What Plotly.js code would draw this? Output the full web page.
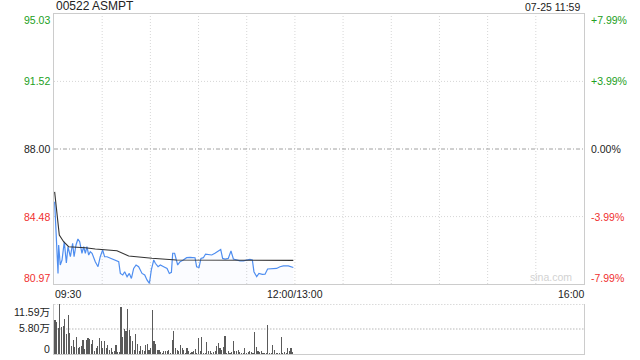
<!DOCTYPE html>
<html><head><meta charset="utf-8">
<script src="https://cdn.plot.ly/plotly-3.0.1.min.js"></script>
<style>html,body{margin:0;padding:0;background:#fff;}#c{width:640px;height:360px;}</style>
</head><body><div id="c"></div>
<script>
// ---- data (minutes after 09:30, trading time with lunch break removed) ----
const priceMin = [0.4,2.5,2.9,3.9,5.0,6.4,7.7,8.7,10.2,11.6,12.5,13.7,14.9,16.0,17.4,18.5,19.5,20.5,21.6,22.6,23.7,25.7,27.4,28.8,30.3,31.5,33.0,35.1,37.2,40.3,41.3,42.8,44.0,45.5,46.9,48.2,49.6,51.1,52.7,54.8,56.5,57.9,59.4,60.6,62.1,63.1,64.8,66.2,68.3,70.4,71.8,73.1,73.9,75.1,77.0,78.5,80.5,82.6,84.7,87.8,88.8,90.3,91.5,93.0,94.4,96.1,98.2,100.2,102.3,103.8,105.0,106.5,108.5,110.2,111.7,113.7,115.8,117.9,120.0,122.0,123.5,124.5,126.2,127.6,129.7,131.4,133.0,135.5,138.6,140.7,142.8,145.9,148.0,149.0];
const priceVal = [85.25,81.52,83.00,81.96,82.22,83.17,82.06,82.91,82.39,83.09,82.39,83.00,83.31,83.17,82.57,82.91,82.57,82.91,82.48,82.65,82.57,82.13,81.87,82.39,82.74,82.39,82.39,82.31,82.27,82.13,81.52,81.44,81.61,81.35,81.52,81.26,81.78,81.96,81.87,81.52,81.44,81.18,81.00,81.70,82.22,82.05,81.87,81.96,81.87,81.78,81.52,81.58,82.57,82.57,81.96,82.13,82.22,82.34,82.36,82.34,81.87,81.83,82.30,82.34,82.53,82.51,82.48,82.57,82.69,82.77,82.30,82.27,82.30,82.69,82.27,82.22,82.17,82.17,82.22,82.25,82.22,81.61,81.35,81.52,81.47,81.48,81.75,81.75,81.78,81.87,81.91,81.91,81.85,81.83];
const avgMin = [0.4,1.9,3.3,6.0,9.1,19.5,25.7,39.2,42.3,46.5,61.0,76.0,149.0];
const avgVal = [85.77,84.56,83.52,83.17,82.91,82.86,82.79,82.70,82.57,82.43,82.31,82.22,82.20];
const volK = [77.8,74.7,61,115.9,62.5,64.8,82,45.7,91.5,49.5,19,32,17,39.6,13.7,17,19,32,11.4,32,36.6,34,24,33.5,7.6,15,19,38,29,15,29,13.7,21,9,13.7,4,6,21,4,4,109,40,57,53,104,55,42,30.5,10,47,23,6,19,9,6,20,23,9,15,102,29,23,9,9,4,3,6,7.6,6,9,2.3,33.5,
  54,14,9,7.7,21.6,14,9,1.5,15,6,1.5,4,7.7,11,1.5,37,6,38.6,1.5,1.5,27,6,7.7,3,4.6,7.7,19,24.7,15,9,17,42.5,1.5,7.7,3,4,31,6,7.7,9,4,3,1.5,14,3,4,7.7,4,3,50,17,7.7,4,6,3,3,1.5,68,1.5,3,21.6,9,1.5,1.5,1.5,40,1.5,4,3,15,6,14,4];
const priceTicks = [95.03, 91.52, 88.00, 84.48, 80.97];
const priceTickText = ['95.03','91.52','88.00','84.48','80.97'];
const pctTickText = ['+7.99%','+3.99%','0.00%','-3.99%','-7.99%'];
const volTicks = [115900, 57950, 0];
const volTickText = ['11.59万','5.80万','0'];
const timeLabels = ['09:30','12:00/13:00','16:00'];
const timeLabelPos = [0,150,330];
const gridMinutes = [30,60,90,120,150,180,210,240,270,300];
const titleText = '00522 ASMPT';
const stampText = '07-25 11:59';

// ---- build ----
const FONT = 'Liberation Sans, Arial, Noto Sans CJK SC, sans-serif';
const GREEN = '#22a022', RED = '#f03030', DARK = '#222';
const volMin = volK.map((v,i)=> 0.6 + i*148/(volK.length-1));
const vol = volK.map(v=>v*1000);

const traces = [
  {x: priceMin, y: priceVal, type:'scatter', mode:'lines', line:{color:'#4f8ef0', width:1.2},
   fill:'tozeroy', fillcolor:'rgba(79,142,240,0.025)', xaxis:'x', yaxis:'y', hoverinfo:'skip'},
  {x: avgMin, y: avgVal, type:'scatter', mode:'lines', line:{color:'#333', width:1.1},
   xaxis:'x', yaxis:'y', hoverinfo:'skip'},
  {x: volMin, y: vol, type:'bar', marker:{color:'#5a5a5a', line:{width:0}}, width:0.7,
   xaxis:'x2', yaxis:'y2', hoverinfo:'skip'}
];

const shapes = [];
gridMinutes.forEach(m=>shapes.push({type:'line', xref:'x', yref:'paper', x0:m, x1:m, y0:0.2059, y1:1,
  line:{color:'#d6d6d6', width:1, dash:'1px,2px'}, layer:'below'}));
[91.52, 84.48].forEach(p=>shapes.push({type:'line', xref:'paper', yref:'y', x0:0, x1:1, y0:p, y1:p,
  line:{color:'#d6d6d6', width:1, dash:'1px,2px'}, layer:'below'}));
shapes.push({type:'line', xref:'paper', yref:'y', x0:0, x1:1, y0:88, y1:88,
  line:{color:'#a0a0a0', width:1, dash:'4px,2px,1px,2px'}, layer:'below'});
[115900, 57950].forEach(v=>shapes.push({type:'line', xref:'paper', yref:'y2', x0:0, x1:1, y0:v, y1:v,
  line:{color:'#d0d0d0', width:1.5, dash:'1.5px,1.5px'}, layer:'below'}));

const ann = [];
ann.push({text:titleText, xref:'paper', yref:'paper', x:0, y:1, xanchor:'left', yanchor:'bottom',
  showarrow:false, font:{family:FONT, size:12, color:DARK}, yshift:-1});
ann.push({text:stampText, xref:'paper', yref:'paper', x:1, y:1, xanchor:'right', yanchor:'bottom',
  showarrow:false, font:{family:FONT, size:10.5, color:DARK}, xshift:-2, yshift:-1});
priceTicks.forEach((p,i)=>{
  const c = i<2 ? GREEN : (i===2 ? DARK : RED);
  const ys = i===0 ? -6 : (i===4 ? 6 : 0);
  ann.push({text:priceTickText[i], xref:'paper', yref:'y', x:0, y:p, xanchor:'right', yanchor:'middle',
    showarrow:false, font:{family:FONT, size:10.5, color:c}, xshift:-2, yshift:ys});
  ann.push({text:pctTickText[i], xref:'paper', yref:'y', x:1, y:p, xanchor:'left', yanchor:'middle',
    showarrow:false, font:{family:FONT, size:10.5, color:c}, xshift:5, yshift:ys});
});
volTicks.forEach((v,i)=>{
  const ys = i===0 ? -8 : (i===2 ? 5 : 1);
  ann.push({text:volTickText[i], xref:'paper', yref:'y2', x:0, y:v, xanchor:'right', yanchor:'middle',
    showarrow:false, font:{family:FONT, size:10.5, color:DARK}, xshift:-2, yshift:ys});
});
timeLabels.forEach((t,i)=>{
  const xa = i===0 ? 'left' : (i===2 ? 'right' : 'center');
  ann.push({text:t, xref:'x', yref:'paper', x:timeLabelPos[i], y:0.2059, xanchor:xa, yanchor:'top',
    showarrow:false, font:{family:FONT, size:10.5, color:DARK}, yshift:-2, xshift: i===0?-1:(i===2?2:0)});
});
ann.push({text:'sina.com', xref:'paper', yref:'paper', x:1, y:0.2059, xanchor:'right', yanchor:'bottom',
  showarrow:false, font:{family:FONT, size:10.5, color:'#d2d2d2'}, xshift:-10, yshift:-1});

const axCommon = {showgrid:false, zeroline:false, showticklabels:false, ticks:'', fixedrange:true,
  showline:true, linecolor:'#cccccc', linewidth:1};
const layout = {
  width:640, height:360, margin:{l:54, r:56, t:14, b:6}, showlegend:false,
  paper_bgcolor:'#fff', plot_bgcolor:'#fff', bargap:0,
  xaxis: Object.assign({}, axCommon, {range:[0,330], domain:[0,1], anchor:'y', mirror:true}),
  yaxis: Object.assign({}, axCommon, {range:[80.97,95.03], domain:[0.2059,1], anchor:'x', mirror:true}),
  xaxis2: Object.assign({}, axCommon, {range:[0,330], domain:[0,1], anchor:'y2', mirror:false}),
  yaxis2: Object.assign({}, axCommon, {range:[0,115900], domain:[0,0.147], anchor:'x2', mirror:true}),
  shapes: shapes, annotations: ann
};
Plotly.newPlot('c', traces, layout, {staticPlot:true, displayModeBar:false});
</script></body></html>
